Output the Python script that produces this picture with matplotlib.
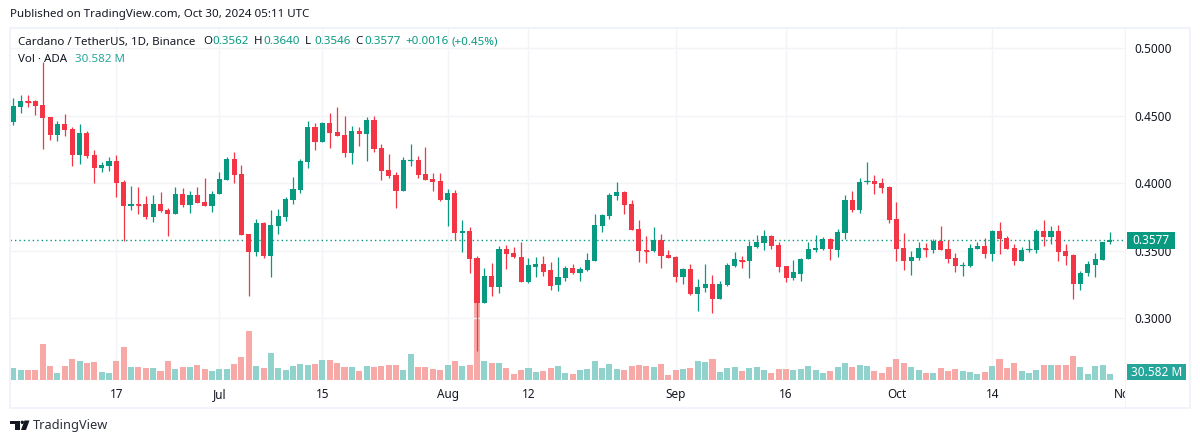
import matplotlib
matplotlib.use("Agg")
import matplotlib.pyplot as plt
from matplotlib.patches import Ellipse, Polygon, Rectangle
from matplotlib.transforms import Bbox

plt.rcParams['font.family'] = ['Noto Sans', 'DejaVu Sans']

# Daily candles, Jun 3 to Oct 30 2024
opens = [.4454, .4566, .4611, .4611, .4581, .4491, .4358, .4439, .4402, .4210,
         .4373, .4210, .4113, .4127, .4165, .4009, .3831, .3846, .3846, .3749,
         .3846, .3801, .3771, .3920, .3839, .3913, .3861, .3831, .3920, .4024,
         .4180, .4068, .3623, .3490, .3705, .3460, .3683, .3749, .3876, .3950,
         .4158, .4417, .4306, .4447, .4380, .4358, .4225, .4388, .4365, .4469,
         .4262, .4098, .4061, .3942, .4165, .4172, .4068, .4032, .4017, .3876,
         .3928, .3631, .3646, .3445, .3111, .3312, .3230, .3512, .3482, .3453,
         .3267, .3378, .3401, .3356, .3245, .3297, .3371, .3334, .3356, .3423,
         .3683, .3757, .3905, .3935, .3846, .3660, .3505, .3497, .3579, .3468,
         .3453, .3304, .3364, .3178, .3223, .3252, .3141, .3245, .3386, .3430,
         .3423, .3527, .3557, .3608, .3542, .3386, .3297, .3327, .3438, .3505,
         .3512, .3586, .3505, .3631, .3876, .3801, .4009, .4017, .4002, .3972,
         .3735, .3519, .3423, .3445, .3519, .3505, .3572, .3512, .3445, .3386,
         .3386, .3512, .3534, .3475, .3646, .3594, .3519, .3423, .3505, .3505,
         .3646, .3601, .3646, .3497, .3468, .3252, .3334, .3393, .3430, .3562]
highs = [.4633, .4655, .4655, .4618, .4899, .4491, .4462, .4513, .4417, .4439,
         .4388, .4247, .4158, .4195, .4210, .4024, .3980, .3972, .3905, .3913,
         .3935, .3816, .3972, .3965, .3942, .3972, .4039, .3942, .4083, .4195,
         .4232, .4135, .3623, .3735, .3712, .3801, .3809, .3898, .4046, .4180,
         .4462, .4447, .4454, .4521, .4566, .4499, .4425, .4417, .4491, .4499,
         .4291, .4217, .4083, .4195, .4291, .4203, .4269, .4076, .4076, .3957,
         .3950, .3727, .3675, .3460, .3371, .3408, .3534, .3542, .3527, .3564,
         .3445, .3453, .3460, .3416, .3453, .3386, .3401, .3378, .3482, .3771,
         .3771, .3928, .4009, .3942, .3876, .3727, .3608, .3675, .3623, .3505,
         .3460, .3371, .3401, .3289, .3401, .3319, .3275, .3408, .3490, .3460,
         .3572, .3616, .3653, .3616, .3564, .3386, .3430, .3445, .3564, .3616,
         .3601, .3594, .3660, .3913, .3942, .4039, .4158, .4061, .4039, .3980,
         .3861, .3631, .3497, .3564, .3557, .3586, .3683, .3579, .3482, .3416,
         .3549, .3564, .3594, .3653, .3712, .3608, .3549, .3527, .3579, .3660,
         .3727, .3683, .3690, .3549, .3475, .3349, .3423, .3482, .3564, .3640]
lows = [.4432, .4521, .4566, .4506, .4254, .4321, .4314, .4351, .4127, .4142,
        .4188, .4002, .4083, .4091, .3898, .3572, .3801, .3771, .3735, .3712,
        .3786, .3608, .3771, .3824, .3779, .3854, .3831, .3786, .3920, .4024,
        .4002, .3616, .3163, .3460, .3445, .3304, .3623, .3720, .3846, .3928,
        .4113, .4247, .4306, .4262, .4351, .4195, .4142, .4276, .4165, .4232,
        .4024, .4039, .3816, .3942, .4127, .4039, .4024, .3942, .3868, .3683,
        .3579, .3490, .3334, .2755, .3111, .3163, .3185, .3364, .3445, .3267,
        .3260, .3304, .3312, .3208, .3200, .3275, .3327, .3275, .3349, .3423,
        .3638, .3735, .3876, .3771, .3653, .3416, .3408, .3490, .3371, .3445,
        .3267, .3252, .3171, .3052, .3193, .3037, .3141, .3237, .3378, .3371,
        .3297, .3519, .3505, .3512, .3341, .3267, .3282, .3275, .3438, .3490,
        .3505, .3430, .3453, .3586, .3786, .3779, .3994, .3920, .3928, .3705,
        .3423, .3356, .3319, .3430, .3453, .3482, .3505, .3408, .3341, .3312,
        .3378, .3512, .3445, .3423, .3475, .3512, .3393, .3423, .3490, .3482,
        .3534, .3549, .3423, .3393, .3141, .3208, .3312, .3304, .3430, .3546]
closes = [.4573, .4611, .4603, .4573, .4484, .4358, .4439, .4395, .4210, .4373,
          .4203, .4113, .4135, .4165, .4002, .3831, .3846, .3839, .3749, .3846,
          .3794, .3771, .3920, .3839, .3913, .3854, .3831, .3920, .4032, .4180,
          .4061, .3616, .3490, .3705, .3460, .3690, .3757, .3883, .3957, .4165,
          .4417, .4306, .4447, .4373, .4351, .4225, .4388, .4365, .4469, .4254,
          .4091, .4054, .3942, .4172, .4172, .4061, .4024, .4009, .3876, .3928,
          .3631, .3646, .3438, .3111, .3312, .3230, .3512, .3475, .3453, .3267,
          .3393, .3401, .3341, .3237, .3304, .3371, .3334, .3364, .3430, .3690,
          .3764, .3913, .3935, .3839, .3653, .3497, .3497, .3579, .3460, .3445,
          .3304, .3364, .3178, .3230, .3252, .3141, .3252, .3393, .3438, .3423,
          .3534, .3564, .3608, .3534, .3378, .3297, .3341, .3438, .3512, .3519,
          .3586, .3512, .3638, .3876, .3801, .4009, .4017, .3994, .3965, .3727,
          .3512, .3423, .3453, .3519, .3512, .3572, .3505, .3438, .3386, .3393,
          .3519, .3534, .3475, .3646, .3586, .3512, .3423, .3505, .3512, .3646,
          .3601, .3646, .3490, .3460, .3252, .3334, .3401, .3438, .3564, .3577]
# volume in millions of ADA
volumes = [60, 50, 50, 50, 180, 70, 35, 70, 105, 95,
           85, 90, 40, 35, 95, 165, 65, 65, 60, 60,
           45, 95, 55, 65, 65, 75, 55, 45, 55, 55,
           80, 115, 245, 70, 60, 135, 60, 50, 70, 80,
           75, 80, 100, 100, 85, 65, 65, 45, 70, 65,
           70, 75, 75, 50, 130, 65, 65, 55, 50, 75,
           95, 70, 75, 440, 95, 85, 85, 60, 30, 50,
           60, 40, 45, 60, 70, 35, 30, 50, 55, 95,
           60, 80, 55, 50, 70, 75, 70, 65, 80, 25,
           50, 55, 60, 95, 90, 105, 40, 60, 65, 45,
           60, 65, 50, 35, 55, 55, 50, 55, 70, 50,
           35, 45, 65, 85, 65, 75, 70, 45, 35, 65,
           105, 85, 65, 50, 35, 35, 60, 45, 55, 45,
           40, 30, 40, 70, 105, 60, 85, 45, 35, 50,
           75, 75, 75, 75, 120, 65, 30, 70, 75, 30.582]

tick_days = [14, 28, 42, 59, 70, 90, 105, 120, 133, 151]
tick_names = ['17', 'Jul', '15', 'Aug', '12', 'Sep', '16', 'Oct', '14', 'Nov']
price_ticks = [0.30, 0.35, 0.40, 0.45, 0.50]
last_price = 0.3577
last_volume = 30.582

UP = '#089981'
DOWN = '#F23645'
UP_VOL = '#92D2CC'
DOWN_VOL = '#F7A9A7'
GRID = '#F3F4F7'
BORDER = '#F0F3FA'
TEXT = '#131722'
W, H = 1200, 443

fig = plt.figure(figsize=(W / 100, H / 100), dpi=100)

# pane spans x 10-1125, y 28-380 in pixels
pane = [10 / W, 1 - 380 / H, 1115 / W, 352 / H]
ax_vol = fig.add_axes(pane)
ax = fig.add_axes(pane)
ax.patch.set_visible(False)

days = list(range(len(closes)))
rising = [c >= o for o, c in zip(opens, closes)]

ax_vol.bar(days, volumes, width=0.82,
           color=[UP_VOL if r else DOWN_VOL for r in rising], linewidth=0)
ax_vol.set_xlim(-0.45, 151.05)
ax_vol.set_ylim(0, 1760)
ax_vol.set_yticks([])
ax_vol.set_xticks(tick_days)
ax_vol.set_xticklabels([])
ax_vol.tick_params(length=0)
ax_vol.grid(axis='x', color=GRID, linewidth=1)
ax_vol.set_axisbelow(True)
for s in ax_vol.spines.values():
    s.set_visible(False)

colors = [UP if r else DOWN for r in rising]
ax.vlines(days, lows, highs, colors=colors, linewidth=0.9, zorder=3)
ax.bar(days, [abs(c - o) for o, c in zip(opens, closes)],
       bottom=[min(o, c) for o, c in zip(opens, closes)],
       width=0.7, color=colors, linewidth=0, zorder=4)
# the dojis still need a visible body
flat = [d for d in days if abs(closes[d] - opens[d]) < 0.0012]
ax.hlines([closes[d] for d in flat], [d - 0.35 for d in flat], [d + 0.35 for d in flat],
          colors=[colors[d] for d in flat], linewidth=0.9, zorder=4)

ax.axhline(last_price, color=UP, linewidth=1, linestyle=(0, (1, 2.2)), zorder=2)

ax.set_xlim(-0.45, 151.05)
ax.set_ylim(0.2540, 0.5152)
ax.yaxis.tick_right()
ax.set_yticks(price_ticks)
ax.set_yticklabels(['%.4f' % p for p in price_ticks], fontsize=8.5, color=TEXT)
ax.set_xticks(tick_days)
ax.set_xticklabels(tick_names, fontsize=8.5, color=TEXT)
ax.tick_params(axis='y', length=0, pad=6.5)
ax.tick_params(axis='x', length=0, pad=5.5)
ax.grid(axis='y', color=GRID, linewidth=1)
ax.set_axisbelow(True)
for s in ax.spines.values():
    s.set_visible(False)

# the last date label is cut off at the pane edge
for lab in ax.get_xticklabels():
    lab.set_clip_box(Bbox([[0, 0], [1125, H]]))
    lab.set_clip_on(True)


def box(x0, y0, x1, y1, color, z=1):
    fig.add_artist(Rectangle((x0 / W, 1 - y1 / H), (x1 - x0) / W, (y1 - y0) / H,
                             transform=fig.transFigure, facecolor=color,
                             edgecolor='none', zorder=z))


def label(x, y, s, color=TEXT, size=8.3, **kw):
    fig.text(x / W, 1 - y / H, s, color=color, fontsize=size, va='center', **kw)


# outer frame and separators
box(9, 27, 1191, 28.5, BORDER)
box(9, 406.5, 1191, 408.5, BORDER)
box(9, 27, 11, 408.5, BORDER)
box(1189, 27, 1191, 408.5, BORDER)
box(1125, 28, 1126, 407, BORDER)

# last value tags
box(1127, 232, 1175, 249, UP, z=5)
label(1151, 240.5, '%.4f' % last_price, color='white', size=8.5, ha='center', weight='bold', zorder=6)
box(1127, 364, 1186, 380, '#26A69A', z=5)
label(1156.5, 372, '%.3f M' % last_volume, color='white', size=8.5, ha='center', zorder=6)

label(10, 15, 'Published on TradingView.com, Oct 30, 2024 05:11 UTC')

label(18, 42, 'Cardano / TetherUS, 1D, Binance')
label(18, 59, 'Vol \u00b7 ADA')
label(75, 59, '30.582 M', color='#26A69A')
legend_x = [203, 254, 305, 355]
for x, name, val in zip(legend_x, 'OHLC', [opens[-1], highs[-1], lows[-1], closes[-1]]):
    label(x, 42, name)
    label(x + 9, 42, '%.4f' % val, color=UP)
label(405, 42, '+0.0016', color=UP)
label(451, 42, '(+0.45%)', color=UP)

# logo
logo_t = [(10, 420.5), (20, 420.5), (20, 430), (14.5, 430), (14.5, 424), (10, 424)]
logo_v = [(24.5, 420.5), (29.5, 420.5), (26, 430), (21, 430)]
for pts in (logo_t, logo_v):
    fig.add_artist(Polygon([(x / W, 1 - y / H) for x, y in pts], closed=True,
                           transform=fig.transFigure, facecolor=TEXT, edgecolor='none'))
fig.add_artist(Ellipse((22.3 / W, 1 - 422.3 / H), 3.4 / W, 3.4 / H,
                       transform=fig.transFigure, facecolor=TEXT, edgecolor='none'))
label(33, 425, 'TradingView', size=9.2, color='#2A2E39')

fig.savefig('out.png', dpi=100)
